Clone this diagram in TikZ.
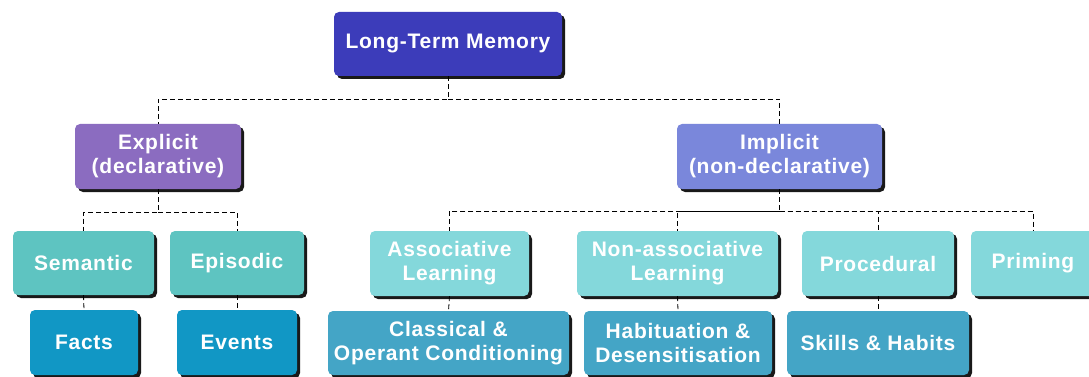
\documentclass[tikz,border=0pt]{standalone}
\usepackage{fontspec}
\setmainfont{Liberation Sans}
\newfontfamily\boxfont[LetterSpace=3.5]{Liberation Sans}
\usetikzlibrary{shadows}
\definecolor{cLTM}{HTML}{3C3CBA}
\definecolor{cExp}{HTML}{8B6CC0}
\definecolor{cImp}{HTML}{7A87DB}
\definecolor{cMid}{HTML}{5EC4C1}
\definecolor{cMidL}{HTML}{84D8DB}
\definecolor{cLow}{HTML}{1197C5}
\definecolor{cLowL}{HTML}{44A5C6}
\tikzset{
  memnode/.style={rounded corners=5pt, inner sep=0pt, align=center, text=white,
    font=\boxfont\fontsize{21}{24}\selectfont\bfseries,
    drop shadow={shadow xshift=3pt, shadow yshift=-3pt, fill=black, opacity=0.9}},
  link/.style={draw=black, line width=0.8pt, dash pattern=on 5pt off 3pt}
}
\begin{document}
\begin{tikzpicture}[x=1pt, y=-1pt]
\useasboundingbox[fill=white] (0,0) rectangle (1089,377);
% top
\node[memnode, fill=cLTM, minimum width=228pt, minimum height=64pt] (ltm) at (448,44) {Long-Term Memory};
\node[memnode, fill=cExp, minimum width=166pt, minimum height=65pt] (expl) at (158,156.5) {Explicit\\(declarative)};
\node[memnode, fill=cImp, minimum width=205pt, minimum height=65pt] (impl) at (779.5,156.5) {Implicit\\(non-declarative)};
% middle row
\node[memnode, fill=cMid, minimum width=141pt, minimum height=64pt] (sem) at (83.5,263) {Semantic};
\node[memnode, fill=cMid, minimum width=134pt, minimum height=64pt] (epi) at (237,263) {Episodic};
\node[memnode, fill=cMidL, minimum width=159pt, minimum height=65pt] (assoc) at (449.5,263.5) {Associative\\Learning};
\node[memnode, fill=cMidL, minimum width=201pt, minimum height=65pt] (nonassoc) at (677.5,263.5) {Non-associative\\Learning};
\node[memnode, fill=cMidL, minimum width=152pt, minimum height=65pt] (proc) at (878,263.5) {Procedural};
\node[memnode, fill=cMidL, minimum width=124pt, minimum height=65pt] (prim) at (1033,263.5) {Priming};
% bottom row
\node[memnode, fill=cLow, minimum width=108pt, minimum height=65pt] (facts) at (84,342.5) {Facts};
\node[memnode, fill=cLow, minimum width=120pt, minimum height=65pt] (events) at (237,342.5) {Events};
\node[memnode, fill=cLowL, minimum width=241pt, minimum height=64pt] (class) at (448.5,343) {Classical \&\\Operant Conditioning};
\node[memnode, fill=cLowL, minimum width=188pt, minimum height=64pt] (habit) at (678,343) {Habituation \&\\Desensitisation};
\node[memnode, fill=cLowL, minimum width=182pt, minimum height=64pt] (skills) at (878,343) {Skills \& Habits};
% connectors
\coordinate (b0) at (448,99);
\draw[link] (ltm.south) -- (b0) -| (expl.north);
\draw[link] (b0) -| (impl.north);
\coordinate (b1) at (158,212);
\draw[link] (expl.south) -- (b1) -| (sem.north);
\draw[link] (b1) -| (epi.north);
\coordinate (b2) at (779.5,211);
\draw[link] (impl.south) -- (b2) -| (assoc.north);
\draw[link] (b2) -| (nonassoc.north);
\draw[link] (b2) -| (proc.north);
\draw[link] (b2) -| (prim.north);
\draw[link] (sem.south) -- (facts.north);
\draw[link] (epi.south) -- (events.north);
\draw[link] (assoc.south) -- (class.north);
\draw[link] (nonassoc.south) -- (habit.north);
\draw[link] (proc.south) -- (skills.north);
\end{tikzpicture}
\end{document}
